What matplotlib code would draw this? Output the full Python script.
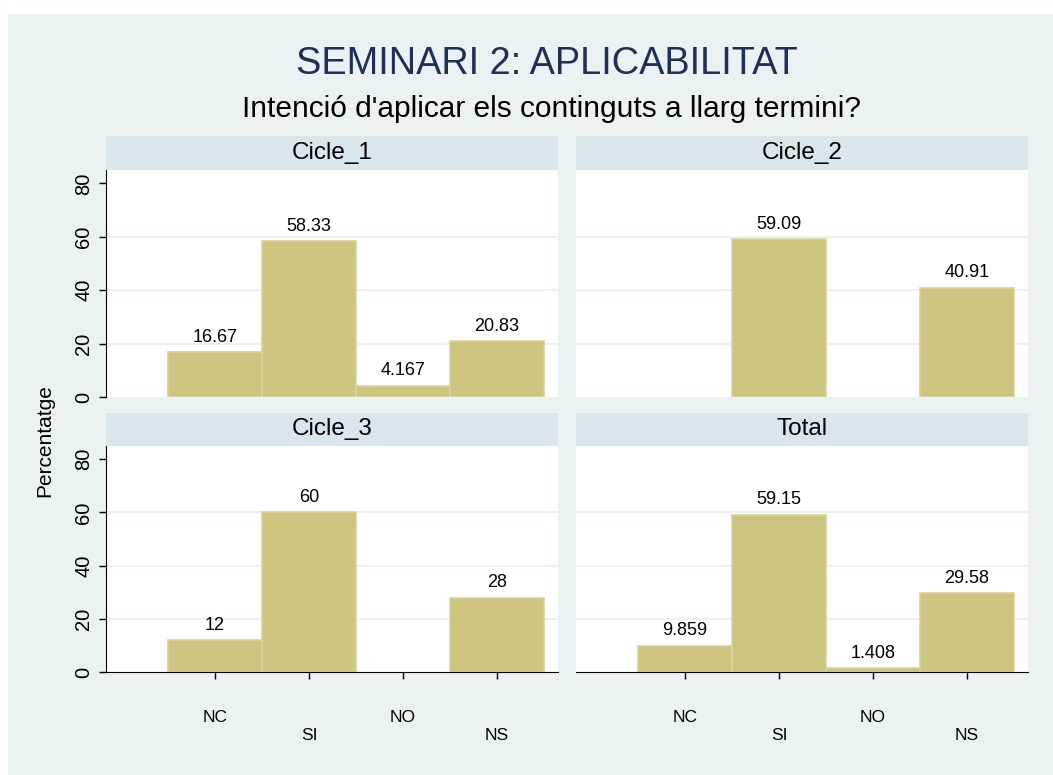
import matplotlib.pyplot as plt
from matplotlib.patches import Rectangle

plt.rcParams["font.family"] = ["Liberation Sans", "DejaVu Sans"]

# Percentatge de respostes per cicle
categories = ["NC", "SI", "NO", "NS"]
panels = ["Cicle_1", "Cicle_2", "Cicle_3", "Total"]
cicle_1 = [16.67, 58.33, 4.167, 20.83]
cicle_2 = [None, 59.09, None, 40.91]
cicle_3 = [12, 60, None, 28]
total = [9.859, 59.15, 1.408, 29.58]
series = [cicle_1, cicle_2, cicle_3, total]
y_ticks = [0, 20, 40, 60, 80]

BG = "#eaf2f3"
STRIP = "#d9e6eb"
BAR = "#cdc47f"
BAR_EDGE = "#d9d29c"
TITLE_COL = "#1f2f55"

W, H = 1053, 775
fig = plt.figure(figsize=(W / 100, H / 100), dpi=100)
fig.patch.set_facecolor("white")
fig.patches.append(Rectangle((8 / W, 0), 1 - 8 / W, 1 - 14 / H,
                             transform=fig.transFigure, facecolor=BG,
                             edgecolor="none", zorder=-10))


def px_box(x0, y0, x1, y1):
    # pixel box (top-left origin) -> figure fraction rect
    return [x0 / W, 1 - y1 / H, (x1 - x0) / W, (y1 - y0) / H]


cols = [(106, 558), (576, 1028)]
rows = [(136, 170, 397), (413, 446, 672)]

for i, (name, vals) in enumerate(zip(panels, series)):
    r, c = divmod(i, 2)
    x0, x1 = cols[c]
    s0, p0, p1 = rows[r]

    # strip header
    sax = fig.add_axes(px_box(x0, s0, x1, p0))
    sax.set_facecolor(STRIP)
    sax.set_xticks([])
    sax.set_yticks([])
    for sp in sax.spines.values():
        sp.set_visible(False)
    sax.text(0.5, 0.5, name, ha="center", va="center", fontsize=17.5,
             transform=sax.transAxes)

    ax = fig.add_axes(px_box(x0, p0, x1, p1))
    ax.set_facecolor("white")
    ax.set_xlim(-1.16, 3.65)
    ax.set_ylim(0, 85)
    for gy in [20, 40, 60]:
        ax.axhline(gy, color=BG, lw=1.5, zorder=0)

    xs = [k for k, v in enumerate(vals) if v is not None]
    hs = [v for v in vals if v is not None]
    ax.bar(xs, hs, width=1.0, color=BAR, edgecolor=BAR_EDGE, linewidth=1.2,
           zorder=2)
    for xk, v in zip(xs, hs):
        ax.annotate(f"{v:.4g}", (xk, v), xytext=(0, 7.5),
                    textcoords="offset points", ha="center", va="baseline",
                    fontsize=13)

    for sp in ["top", "right"]:
        ax.spines[sp].set_visible(False)
    ax.spines["left"].set_visible(c == 0)
    ax.spines["bottom"].set_visible(r == 1)

    if c == 0:
        ax.set_yticks(y_ticks)
        ax.set_yticklabels([str(t) for t in y_ticks], rotation=90,
                           va="center", fontsize=14.5)
        ax.tick_params(axis="y", length=5, width=1, pad=4)
    else:
        ax.set_yticks([])

    if r == 1:
        ax.set_xticks(range(len(categories)))
        ax.set_xticklabels(categories, fontsize=12.5)
        ax.tick_params(axis="x", length=5, width=1)
        for k, t in enumerate(ax.xaxis.get_major_ticks()):
            t.set_pad(22 if k % 2 == 0 else 35)
    else:
        ax.set_xticks([])

fig.text(547 / W, 1 - 64 / H, "SEMINARI 2: APLICABILITAT", ha="center",
         va="center", fontsize=27.3, color=TITLE_COL)
fig.text(551 / W, 1 - 109 / H, "Intenció d'aplicar els continguts a llarg termini?",
         ha="center", va="center", fontsize=21.5)
fig.text(45 / W, 1 - 441 / H, "Percentatge", ha="center", va="center",
         rotation=90, fontsize=15)

fig.savefig("out.png", dpi=100, facecolor=fig.get_facecolor())
